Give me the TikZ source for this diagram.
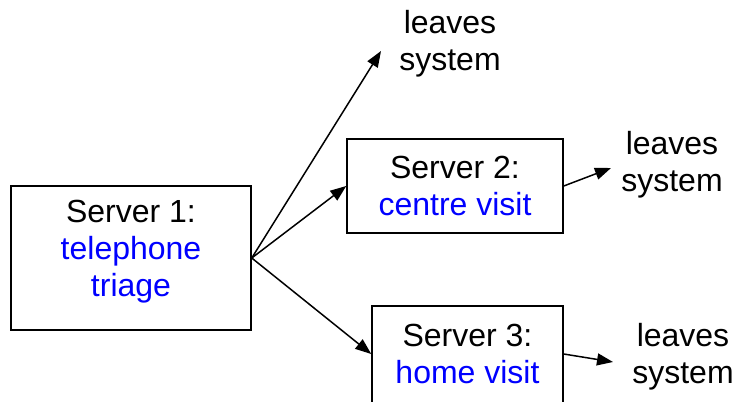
\documentclass[tikz,border=0pt]{standalone}
\usepackage{fontspec}
\setmainfont{Liberation Sans}
\usetikzlibrary{arrows.meta}
\begin{document}
\begin{tikzpicture}[x=1pt,y=-1pt,
  box/.style={draw, line width=1.5pt, minimum width=#1, inner sep=0pt},
  lbl/.style={align=center, font=\fontsize{32}{37}\selectfont, inner sep=0pt},
  arr/.style={line width=1.5pt, -{Triangle[length=16pt,width=12pt]}}]
\useasboundingbox (0,0) rectangle (735,401);
\node[box=240pt, minimum height=144pt] (s1) at (131,258) {};
\node[lbl] at (131,252) {Server 1:\\\textcolor{blue}{telephone}\\\textcolor{blue}{triage}};
\node[box=216pt, minimum height=94pt] (s2) at (455,186) {};
\node[lbl] at (455,186) {Server 2:\\\textcolor{blue}{centre visit}};
\node[box=191pt, minimum height=104pt] (s3) at (467.5,358) {};
\node[lbl] at (467.5,354) {Server 3:\\\textcolor{blue}{home visit}};
\node[lbl] (l1) at (450,44) {leaves\\system};
\node[lbl] (l2) at (672,165) {leaves\\system};
\node[lbl] (l3) at (683,357) {leaves\\system};
\coordinate (t1) at (381,51);
\coordinate (t2) at (611,168);
\coordinate (t3) at (613,362);
\draw[arr] (s1.east) -- (t1);
\draw[arr] (s1.east) -- (s2.west);
\draw[arr] (s1.east) -- ([yshift=4pt]s3.west);
\draw[arr] (s2.east) -- (t2);
\draw[arr] ([yshift=4pt]s3.east) -- (t3);
\end{tikzpicture}
\end{document}
